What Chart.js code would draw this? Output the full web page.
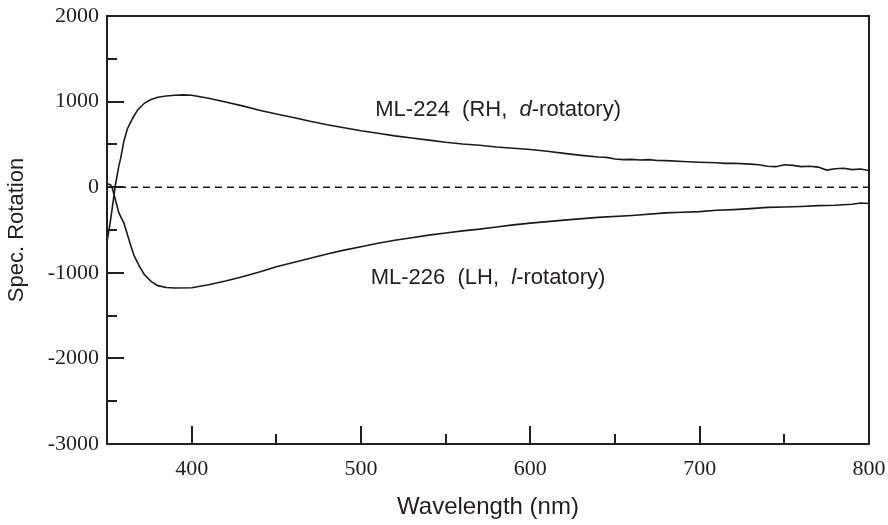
<!DOCTYPE html>
<html>
<head>
<meta charset="utf-8">
<script src="https://cdn.jsdelivr.net/npm/chart.js@4.4.1/dist/chart.umd.min.js"></script>
<style>
  html, body { margin: 0; padding: 0; background: #fff; }
  #wrap { width: 888px; height: 525px; }
</style>
</head>
<body>
<div id="wrap"><canvas id="GraficoRotacao" width="888" height="525"></canvas></div>
<script>
// ML-224 (RH, d-rotatory)
var rhWavelength = [350, 352, 355, 357, 358, 360, 362, 365, 368, 372, 376, 380, 385, 390, 395, 400,
    410, 420, 430, 440, 450, 460, 470, 480, 490, 500, 510, 520, 530, 540, 550, 560, 570, 580, 590, 600,
    610, 620, 630, 640, 645, 650, 655, 660, 665, 670, 675, 680, 690, 700, 710, 715, 720, 730, 735, 740,
    745, 750, 755, 760, 765, 770, 775, 780, 785, 790, 795, 800];
var rhRotation = [-640, -400, 30, 250, 330, 540, 680, 800, 900, 980, 1025, 1050, 1065, 1075, 1078, 1075,
    1040, 995, 950, 900, 855, 815, 770, 730, 695, 660, 630, 600, 575, 550, 525, 505, 490, 470, 455, 440,
    420, 395, 372, 352, 348, 330, 322, 325, 318, 322, 312, 310, 300, 292, 285, 278, 280, 270, 262, 245,
    240, 262, 255, 240, 245, 235, 200, 215, 222, 205, 212, 195];

// ML-226 (LH, l-rotatory)
var lhWavelength = [350, 352, 353, 355, 357, 360, 362, 364, 366, 369, 372, 376, 380, 385, 390, 400,
    410, 420, 430, 440, 450, 460, 470, 480, 490, 500, 510, 520, 530, 540, 550, 560, 570, 580, 590, 600,
    620, 640, 660, 680, 690, 700, 710, 720, 730, 740, 750, 760, 770, 780, 790, 795, 800];
var lhRotation = [40, 30, 0, -150, -300, -420, -550, -680, -800, -920, -1020, -1100, -1150, -1172, -1178, -1175,
    -1140, -1095, -1045, -990, -930, -880, -830, -780, -735, -695, -655, -620, -590, -560, -535, -510, -490, -465, -440, -420,
    -385, -352, -330, -300, -292, -285, -270, -262, -250, -236, -232, -225, -215, -210, -200, -185, -190];

var zeroLine = [350, 800];

var xTickLabels = [400, 500, 600, 700, 800];
var yTickLabels = [-3000, -2000, -1000, 0, 1000, 2000];

var corTexto = '#231f20';

function pontos(xs, ys) {
    return xs.map(function (x, i) { return { x: x, y: ys[i] }; });
}

// ticks go inside the frame, long at labelled values, short in between
var ticksInternos = {
    id: 'ticksInternos',
    afterDatasetsDraw: function (chart) {
        var ctx = chart.ctx;
        var area = chart.chartArea;
        var sx = chart.scales.x;
        var sy = chart.scales.y;
        ctx.save();
        ctx.strokeStyle = corTexto;
        ctx.lineWidth = 2;
        ctx.strokeRect(area.left, area.top, area.right - area.left, area.bottom - area.top);

        ctx.beginPath();
        sx.ticks.forEach(function (t) {
            var px = Math.round(sx.getPixelForValue(t.value));
            var len = xTickLabels.indexOf(t.value) >= 0 ? 18 : 10;
            ctx.moveTo(px, area.bottom);
            ctx.lineTo(px, area.bottom - len);
        });
        sy.ticks.forEach(function (t) {
            var py = Math.round(sy.getPixelForValue(t.value));
            var len = yTickLabels.indexOf(t.value) >= 0 ? 17 : 10;
            ctx.moveTo(area.left, py);
            ctx.lineTo(area.left + len, py);
        });
        ctx.stroke();
        ctx.restore();
    }
};

// curve names, with the d / l prefix in italics
var rotulos = [
    { x: 581, y: 900, partes: [['ML-224  (RH,  ', false], ['d', true], ['-rotatory)', false]] },
    { x: 575, y: -1060, partes: [['ML-226  (LH,  ', false], ['l', true], ['-rotatory)', false]] }
];

var rotulosCurvas = {
    id: 'rotulosCurvas',
    afterDatasetsDraw: function (chart) {
        var ctx = chart.ctx;
        ctx.save();
        ctx.fillStyle = corTexto;
        ctx.textBaseline = 'middle';
        ctx.textAlign = 'left';
        rotulos.forEach(function (r) {
            var total = 0;
            r.partes.forEach(function (p) {
                ctx.font = (p[1] ? 'italic ' : '') + '22px "Liberation Sans", Arial, sans-serif';
                total += ctx.measureText(p[0]).width;
            });
            var px = chart.scales.x.getPixelForValue(r.x) - total / 2;
            var py = chart.scales.y.getPixelForValue(r.y);
            r.partes.forEach(function (p) {
                ctx.font = (p[1] ? 'italic ' : '') + '22px "Liberation Sans", Arial, sans-serif';
                ctx.fillText(p[0], px, py);
                px += ctx.measureText(p[0]).width;
            });
        });
        ctx.restore();
    }
};

var ctx = document.getElementById('GraficoRotacao').getContext('2d');
var grafico = new Chart(ctx, {
    type: 'line',
    data: {
        datasets: [{
            label: 'ML-224',
            data: pontos(rhWavelength, rhRotation),
            borderColor: '#1a1a1a',
            borderWidth: 1.6,
            pointRadius: 0,
            tension: 0
        }, {
            label: 'ML-226',
            data: pontos(lhWavelength, lhRotation),
            borderColor: '#1a1a1a',
            borderWidth: 1.6,
            pointRadius: 0,
            tension: 0
        }, {
            label: 'zero',
            data: pontos(zeroLine, [0, 0]),
            borderColor: '#1a1a1a',
            borderWidth: 1.6,
            borderDash: [7, 5],
            pointRadius: 0
        }]
    },
    options: {
        responsive: false,
        animation: false,
        layout: { padding: { top: 16, right: 19, left: 0, bottom: 0 } },
        plugins: {
            legend: { display: false },
            tooltip: { enabled: false }
        },
        scales: {
            x: {
                type: 'linear',
                min: 350,
                max: 800,
                afterFit: function (s) {
                    s.height = 81;
                    s.paddingLeft = 0;
                    s.paddingRight = 0;
                },
                grid: { display: false, drawTicks: false },
                border: { display: false },
                ticks: {
                    stepSize: 50,
                    autoSkip: false,
                    maxRotation: 0,
                    padding: 12,
                    color: corTexto,
                    font: { family: '"Liberation Serif", "Times New Roman", serif', size: 22 },
                    callback: function (v) { return xTickLabels.indexOf(v) >= 0 ? String(v) : ''; }
                },
                title: {
                    display: true,
                    text: 'Wavelength (nm)',
                    color: corTexto,
                    padding: { top: 0, bottom: 3 },
                    font: { family: '"Liberation Sans", Arial, sans-serif', size: 24 }
                }
            },
            y: {
                min: -3000,
                max: 2000,
                afterFit: function (s) {
                    s.width = 107;
                    s.paddingTop = 0;
                    s.paddingBottom = 0;
                },
                grid: { display: false, drawTicks: false },
                border: { display: false },
                ticks: {
                    stepSize: 500,
                    autoSkip: false,
                    padding: 8,
                    color: corTexto,
                    font: { family: '"Liberation Serif", "Times New Roman", serif', size: 22 },
                    callback: function (v) { return yTickLabels.indexOf(v) >= 0 ? String(v) : ''; }
                },
                title: {
                    display: true,
                    text: 'Spec. Rotation',
                    color: corTexto,
                    padding: { top: 4, bottom: 0 },
                    font: { family: '"Liberation Sans", Arial, sans-serif', size: 22 }
                }
            }
        }
    },
    plugins: [ticksInternos, rotulosCurvas]
});
</script>
</body>
</html>
